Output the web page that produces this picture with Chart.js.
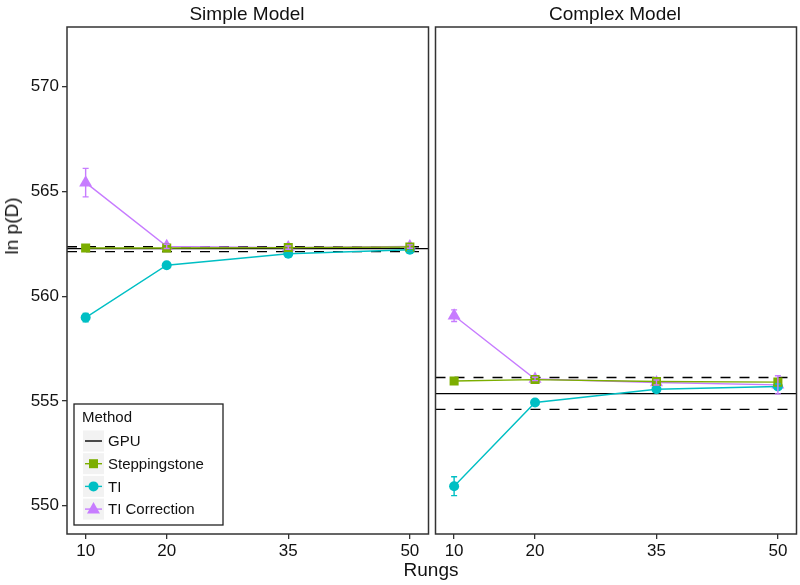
<!DOCTYPE html>
<html>
<head>
<meta charset="utf-8">
<script src="https://cdn.jsdelivr.net/npm/chart.js@4.4.1/dist/chart.umd.min.js"></script>
<style>
  body { margin: 0; background: #fff; font-family: "Liberation Sans", Arial, sans-serif; }
  #wrap { position: relative; width: 800px; height: 585px; overflow: hidden; }
  canvas { position: absolute; top: 0; }
  .lbl { position: absolute; color: #111; font-size: 19px; white-space: nowrap; }
</style>
</head>
<body>
<div id="wrap">
  <canvas id="simple" width="436" height="585" style="left:0"></canvas>
  <canvas id="complex" width="376" height="585" style="left:428px"></canvas>
  <div class="lbl" style="left:247px;top:14px;transform:translate(-50%,-50%)">Simple Model</div>
  <div class="lbl" style="left:615px;top:14px;transform:translate(-50%,-50%)">Complex Model</div>
  <div class="lbl" style="left:431px;top:570px;transform:translate(-50%,-50%)">Rungs</div>
  <div class="lbl" style="left:12px;top:226px;transform:translate(-50%,-50%) rotate(-90deg)">ln p(D)</div>
</div>
<script>
// ===== Dados =====
const rungs = [10, 20, 35, 50];
const yTicks = [550, 555, 560, 565, 570];
const metodos = ["GPU", "Steppingstone", "TI", "TI Correction"];
const cores = ["#000000", "#7CAE00", "#00BFC4", "#C77CFF"];

// GPU: media e intervalo (linhas horizontais)  [simples, complexo]
const gpuMedia = [562.27, 555.35];
const gpuBaixo = [562.13, 554.6];
const gpuAlto = [562.36, 556.12];

// Simple Model
const simplesSS = [562.3, 562.3, 562.32, 562.35];
const simplesSSerr = [0.03, 0.03, 0.03, 0.03];
const simplesTI = [558.98, 561.48, 562.03, 562.22];
const simplesTIerr = [0.2, 0.05, 0.05, 0.05];
const simplesTIC = [565.42, 562.38, 562.32, 562.37];
const simplesTICerr = [0.68, 0.1, 0.08, 0.08];

// Complex Model
const complexoSS = [555.95, 556.02, 555.93, 555.9];
const complexoSSerr = [0.03, 0.03, 0.03, 0.05];
const complexoTI = [550.93, 554.93, 555.56, 555.69];
const complexoTIerr = [0.45, 0.05, 0.06, 0.12];
const complexoTIC = [559.07, 556.05, 555.88, 555.77];
const complexoTICerr = [0.28, 0.08, 0.12, 0.43];

const fonte = "'Liberation Sans', Arial, sans-serif";

// ===== Plugins =====
const painelPlugin = {
  id: "painel",
  beforeDatasetsDraw(chart, args, opts) {
    const { ctx, chartArea: a, scales: { y } } = chart;
    ctx.save();
    ctx.beginPath();
    ctx.rect(a.left, a.top, a.right - a.left, a.bottom - a.top);
    ctx.clip();
    ctx.strokeStyle = "#000";
    ctx.lineWidth = 1.4;
    // linha solida GPU
    ctx.beginPath();
    const ym = y.getPixelForValue(opts.media);
    ctx.moveTo(a.left, ym); ctx.lineTo(a.right, ym);
    ctx.stroke();
    // linhas tracejadas
    ctx.setLineDash([10, 9]);
    [opts.baixo, opts.alto].forEach(v => {
      const yy = y.getPixelForValue(v);
      ctx.beginPath();
      ctx.moveTo(a.left, yy); ctx.lineTo(a.right, yy);
      ctx.stroke();
    });
    ctx.restore();
  },
  afterDatasetsDraw(chart) {
    const { ctx, scales: { x, y } } = chart;
    ctx.save();
    chart.data.datasets.forEach(ds => {
      if (!ds.erros) return;
      ctx.strokeStyle = ds.borderColor;
      ctx.lineWidth = 1.4;
      ds.data.forEach((p, i) => {
        const px = x.getPixelForValue(p.x);
        const y1 = y.getPixelForValue(p.y - ds.erros[i]);
        const y2 = y.getPixelForValue(p.y + ds.erros[i]);
        ctx.beginPath();
        ctx.moveTo(px, y1); ctx.lineTo(px, y2);
        ctx.moveTo(px - 3, y1); ctx.lineTo(px + 3, y1);
        ctx.moveTo(px - 3, y2); ctx.lineTo(px + 3, y2);
        ctx.stroke();
      });
    });
    ctx.restore();
  },
  afterDraw(chart, args, opts) {
    const { ctx, chartArea: a } = chart;
    ctx.save();
    ctx.strokeStyle = "#333";
    ctx.lineWidth = 1.5;
    ctx.strokeRect(a.left, a.top, a.right - a.left, a.bottom - a.top);
    if (opts.legenda) desenharLegenda(ctx, a);
    ctx.restore();
  }
};

function desenharMarcador(ctx, tipo, x, y, cor) {
  ctx.fillStyle = cor;
  ctx.beginPath();
  if (tipo === "rect") ctx.rect(x - 4.5, y - 4.5, 9, 9);
  else if (tipo === "circle") ctx.arc(x, y, 5, 0, Math.PI * 2);
  else if (tipo === "triangle") { ctx.moveTo(x, y - 7); ctx.lineTo(x + 6.5, y + 4.5); ctx.lineTo(x - 6.5, y + 4.5); ctx.closePath(); }
  ctx.fill();
}

function desenharLegenda(ctx, a) {
  const bx = a.left + 7, by = 404;
  ctx.fillStyle = "#fff";
  ctx.fillRect(bx, by, 149, 121);
  ctx.strokeStyle = "#222";
  ctx.lineWidth = 1.3;
  ctx.strokeRect(bx, by, 149, 121);
  ctx.fillStyle = "#111";
  ctx.textBaseline = "middle";
  ctx.font = "15px " + fonte;
  ctx.fillText("Method", bx + 8, by + 14);
  const estilos = [null, "rect", "circle", "triangle"];
  metodos.forEach((m, i) => {
    const cy = by + 37 + i * 22.7;
    ctx.fillStyle = "#F2F2F2";
    ctx.fillRect(bx + 9, cy - 10.5, 21, 21);
    ctx.strokeStyle = cores[i];
    ctx.lineWidth = 1.4;
    ctx.beginPath();
    ctx.moveTo(bx + 11, cy); ctx.lineTo(bx + 28, cy);
    ctx.stroke();
    if (estilos[i]) desenharMarcador(ctx, estilos[i], bx + 19.5, cy, cores[i]);
    ctx.fillStyle = "#111";
    ctx.fillText(m, bx + 34, cy + 1);
  });
}

// ===== Graficos =====
function serie(label, valores, erros, cor, estilo, raio) {
  return {
    label,
    data: rungs.map((r, i) => ({ x: r, y: valores[i] })),
    erros,
    borderColor: cor,
    backgroundColor: cor,
    pointBackgroundColor: cor,
    pointBorderColor: cor,
    pointBorderWidth: 0,
    pointStyle: estilo,
    pointRadius: raio,
    borderWidth: 1.4,
    tension: 0
  };
}

function criarPainel(id, k, series, mostrarY) {
  return new Chart(document.getElementById(id), {
    type: "line",
    data: {
      datasets: [
        serie("Steppingstone", series[0], series[1], cores[1], "rect", 6.4),
        serie("TI", series[2], series[3], cores[2], "circle", 5),
        serie("TI Correction", series[4], series[5], cores[3], "triangle", 7.5)
      ]
    },
    options: {
      responsive: false,
      animation: false,
      devicePixelRatio: 1,
      layout: { padding: { top: 27, right: 0, bottom: 0, left: mostrarY ? 0 : 3 } },
      plugins: {
        legend: { display: false },
        tooltip: { enabled: false },
        painel: { media: gpuMedia[k], baixo: gpuBaixo[k], alto: gpuAlto[k], legenda: mostrarY }
      },
      scales: {
        x: {
          type: "linear",
          min: 7.7, max: 52.3,
          afterBuildTicks: s => { s.ticks = rungs.map(v => ({ value: v })); },
          afterFit: s => { s.height = 51; s.paddingLeft = 0; s.paddingRight = 0; },
          ticks: { autoSkip: false, maxRotation: 0, padding: 2, color: "#111", font: { family: fonte, size: 17 } },
          grid: { drawOnChartArea: false, tickLength: 5, color: "#333", lineWidth: 1.3 },
          border: { display: false }
        },
        y: {
          display: mostrarY,
          min: 548.65, max: 572.85,
          afterBuildTicks: s => { s.ticks = yTicks.map(v => ({ value: v })); },
          afterFit: s => { s.width = mostrarY ? 67 : 0; s.paddingTop = 0; s.paddingBottom = 0; },
          ticks: { autoSkip: false, padding: 3, color: "#111", font: { family: fonte, size: 17 } },
          grid: { drawOnChartArea: false, tickLength: 5, color: "#333", lineWidth: 1.3 },
          border: { display: false }
        }
      }
    },
    plugins: [painelPlugin]
  });
}

criarPainel("simple", 0, [simplesSS, simplesSSerr, simplesTI, simplesTIerr, simplesTIC, simplesTICerr], true);
criarPainel("complex", 1, [complexoSS, complexoSSerr, complexoTI, complexoTIerr, complexoTIC, complexoTICerr], false);
</script>
</body>
</html>
